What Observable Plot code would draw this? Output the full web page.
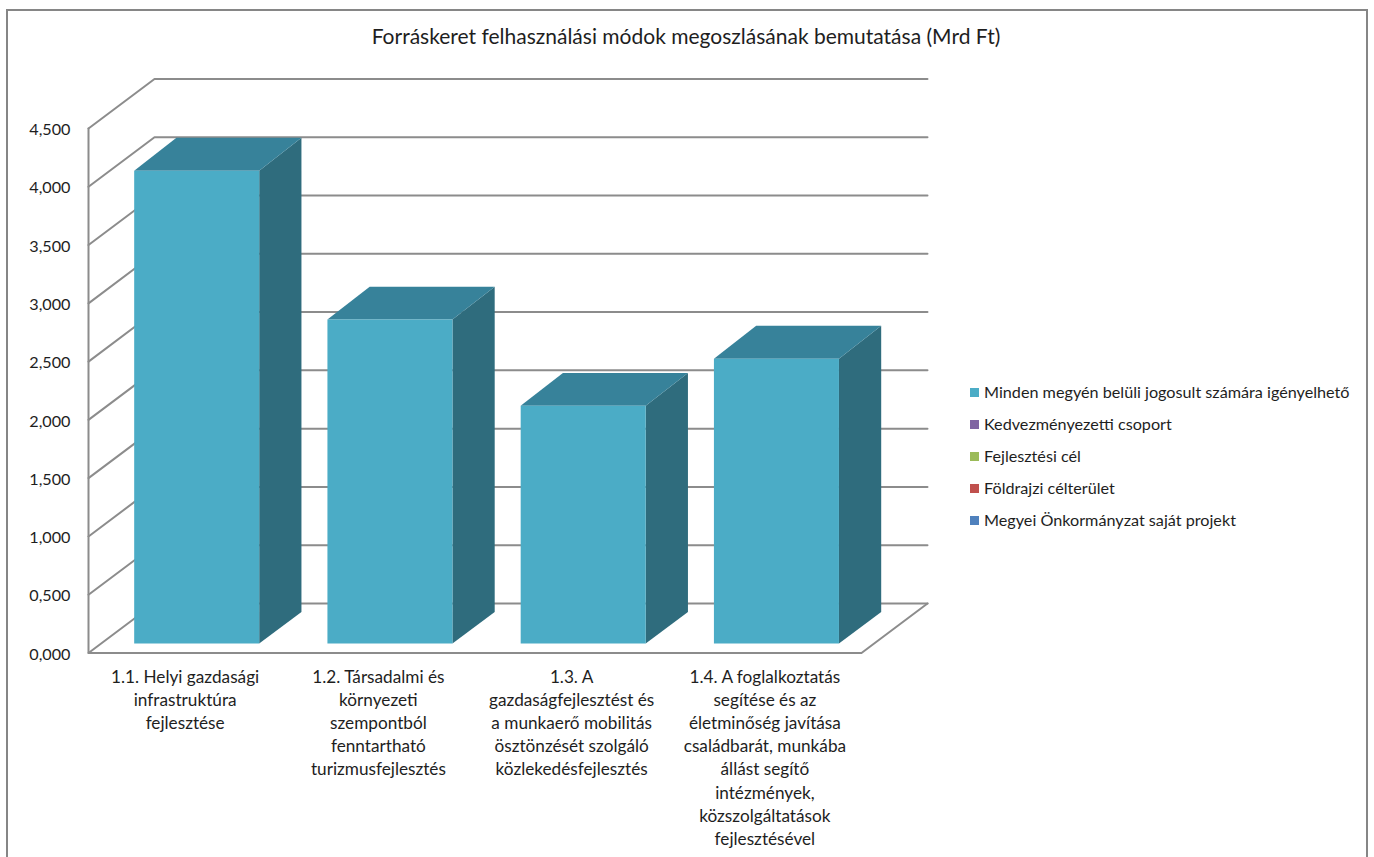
<!DOCTYPE html>
<html lang="hu">
<head>
<meta charset="utf-8">
<script src="https://cdn.jsdelivr.net/npm/d3@7"></script>
<script src="https://cdn.jsdelivr.net/npm/@observablehq/plot@0.6"></script>
<style>
  html, body { margin: 0; padding: 0; background: #fff; overflow: hidden; }
  body { width: 1374px; height: 857px; position: relative; font-family: Lato, "Noto Sans", sans-serif; color: #1e1e1e; }
  #frame { position: absolute; left: 6px; top: 9px; width: 1358px; height: 848px; border: 2px solid #868686; border-bottom: none; }
  #title { position: absolute; left: 0; top: 0; width: 1372px; height: 60px; line-height: 72px; text-align: center; font-size: 21px; }
  #chart { position: absolute; left: 0; top: 60px; width: 950px; height: 797px; }
  #chart svg { display: block; }
  #legend { position: absolute; left: 970px; top: 375px; font-size: 16.2px; }
  .item { display: flex; align-items: center; height: 32px; white-space: nowrap; }
  .swatch { width: 9px; height: 9px; margin-right: 5px; flex: none; position: relative; top: 1px; }
</style>
</head>
<body>
<div id="frame"></div>
<div id="title"></div>
<div id="chart"></div>
<div id="legend"></div>
<script>
const chartTitle = "Forráskeret felhasználási módok megoszlásának bemutatása (Mrd Ft)";
const categories = ["1.1", "1.2", "1.3", "1.4"];
const categoryLabels = [
  "1.1. Helyi gazdasági\ninfrastruktúra\nfejlesztése",
  "1.2. Társadalmi és\nkörnyezeti\nszempontból\nfenntartható\nturizmusfejlesztés",
  "1.3. A\ngazdaságfejlesztést és\na munkaerő mobilitás\nösztönzését szolgáló\nközlekedésfejlesztés",
  "1.4. A foglalkoztatás\nsegítése és az\néletminőség javítása\ncsaládbarát, munkába\nállást segítő\nintézmények,\nközszolgáltatások\nfejlesztésével"
];
const values = [4.057, 2.78, 2.04, 2.444];
const yTicks = [0, 0.5, 1, 1.5, 2, 2.5, 3, 3.5, 4, 4.5];
const legendNames = [
  "Minden megyén belüli jogosult számára igényelhető",
  "Kedvezményezetti csoport",
  "Fejlesztési cél",
  "Földrajzi célterület",
  "Megyei Önkormányzat saját projekt"
];
const legendColors = ["#4bacc6", "#8064a2", "#9bbb59", "#c0504d", "#4f81bd"];

// Oblique projection: depth z (0 = front, 1 = back wall) shifts a point in data units.
const depthX = 0.3415, depthY = 0.425;
const barGap = 0.1715, zFront = 0.19, zBack = 0.83, topRise = 0.01;
const pt = (u, v, z, id) => ({ x: u + z * depthX, y: v + z * depthY, id });

const wallStroke = { stroke: "#8c8c8c", strokeWidth: 2 };
const xMax = categories.length, yMax = yTicks[yTicks.length - 1];

const gridLines = yTicks.flatMap(t => [pt(0, t, 0, t), pt(0, t, 1, t), pt(xMax, t, 1, t)]);
const frontAxis = [pt(0, yMax, 0, "a"), pt(0, 0, 0, "a"), pt(xMax, 0, 0, "a"), pt(xMax, 0, 1, "a")];

const face = corners => values.flatMap((v, i) => {
  const l = i + barGap, r = i + 1 - barGap - 0.01;
  return corners(l, r, v).map(c => pt(c[0], c[1], c[2], categories[i]));
});
const front = face((l, r, v) => [[l, 0, zFront], [r, 0, zFront], [r, v, zFront], [l, v, zFront]]);
const top_ = face((l, r, v) => [[l, v, zFront], [r, v, zFront], [r, v + topRise, zBack], [l, v + topRise, zBack]]);
const side = face((l, r, v) => [[r, 0, zFront], [r, 0, zBack], [r, v + topRise, zBack], [r, v, zFront]]);
const polygon = (rows, fill) => Plot.line(rows, { x: "x", y: "y", z: "id", fill, stroke: "none", curve: "linear-closed" });

const plot = Plot.plot({
  width: 950, height: 797,
  marginLeft: 88, marginRight: 89, marginTop: 68, marginBottom: 204.5,
  style: { fontFamily: "Lato, 'Noto Sans', sans-serif", fontSize: "16.2px", color: "#1e1e1e", background: "transparent", overflow: "visible" },
  x: { domain: [0, xMax], axis: null },
  y: { domain: [0, yMax], axis: null },
  marks: [
    Plot.line(gridLines, { x: "x", y: "y", z: "id", ...wallStroke }),
    Plot.line(frontAxis, { x: "x", y: "y", z: "id", ...wallStroke }),
    polygon(side, "#2f6c7d"),
    polygon(top_, "#37829a"),
    polygon(front, "#4bacc6"),
    Plot.axisY({
      ticks: yTicks, tickSize: 0, tickPadding: 18, dy: 1.5,
      tickFormat: d => d.toFixed(3).replace(".", ","),
      fill: "#1e1e1e", label: null, fontSize: 16.2
    }),
    Plot.axisX({
      ticks: categories.map((_, i) => i + 0.5),
      tickFormat: d => categoryLabels[Math.floor(d)],
      tickSize: 0, tickPadding: 13, lineHeight: 1.35, lineAnchor: "top", textAnchor: "middle",
      fill: "#1e1e1e", label: null, fontSize: 17.2
    })
  ]
});
document.getElementById("chart").appendChild(plot);
document.getElementById("title").textContent = chartTitle;
d3.select("#legend").selectAll(".item").data(legendNames).join("div").attr("class", "item")
  .call(s => s.append("span").attr("class", "swatch").style("background", (_, i) => legendColors[i]))
  .call(s => s.append("span").text(d => d));
</script>
</body>
</html>
